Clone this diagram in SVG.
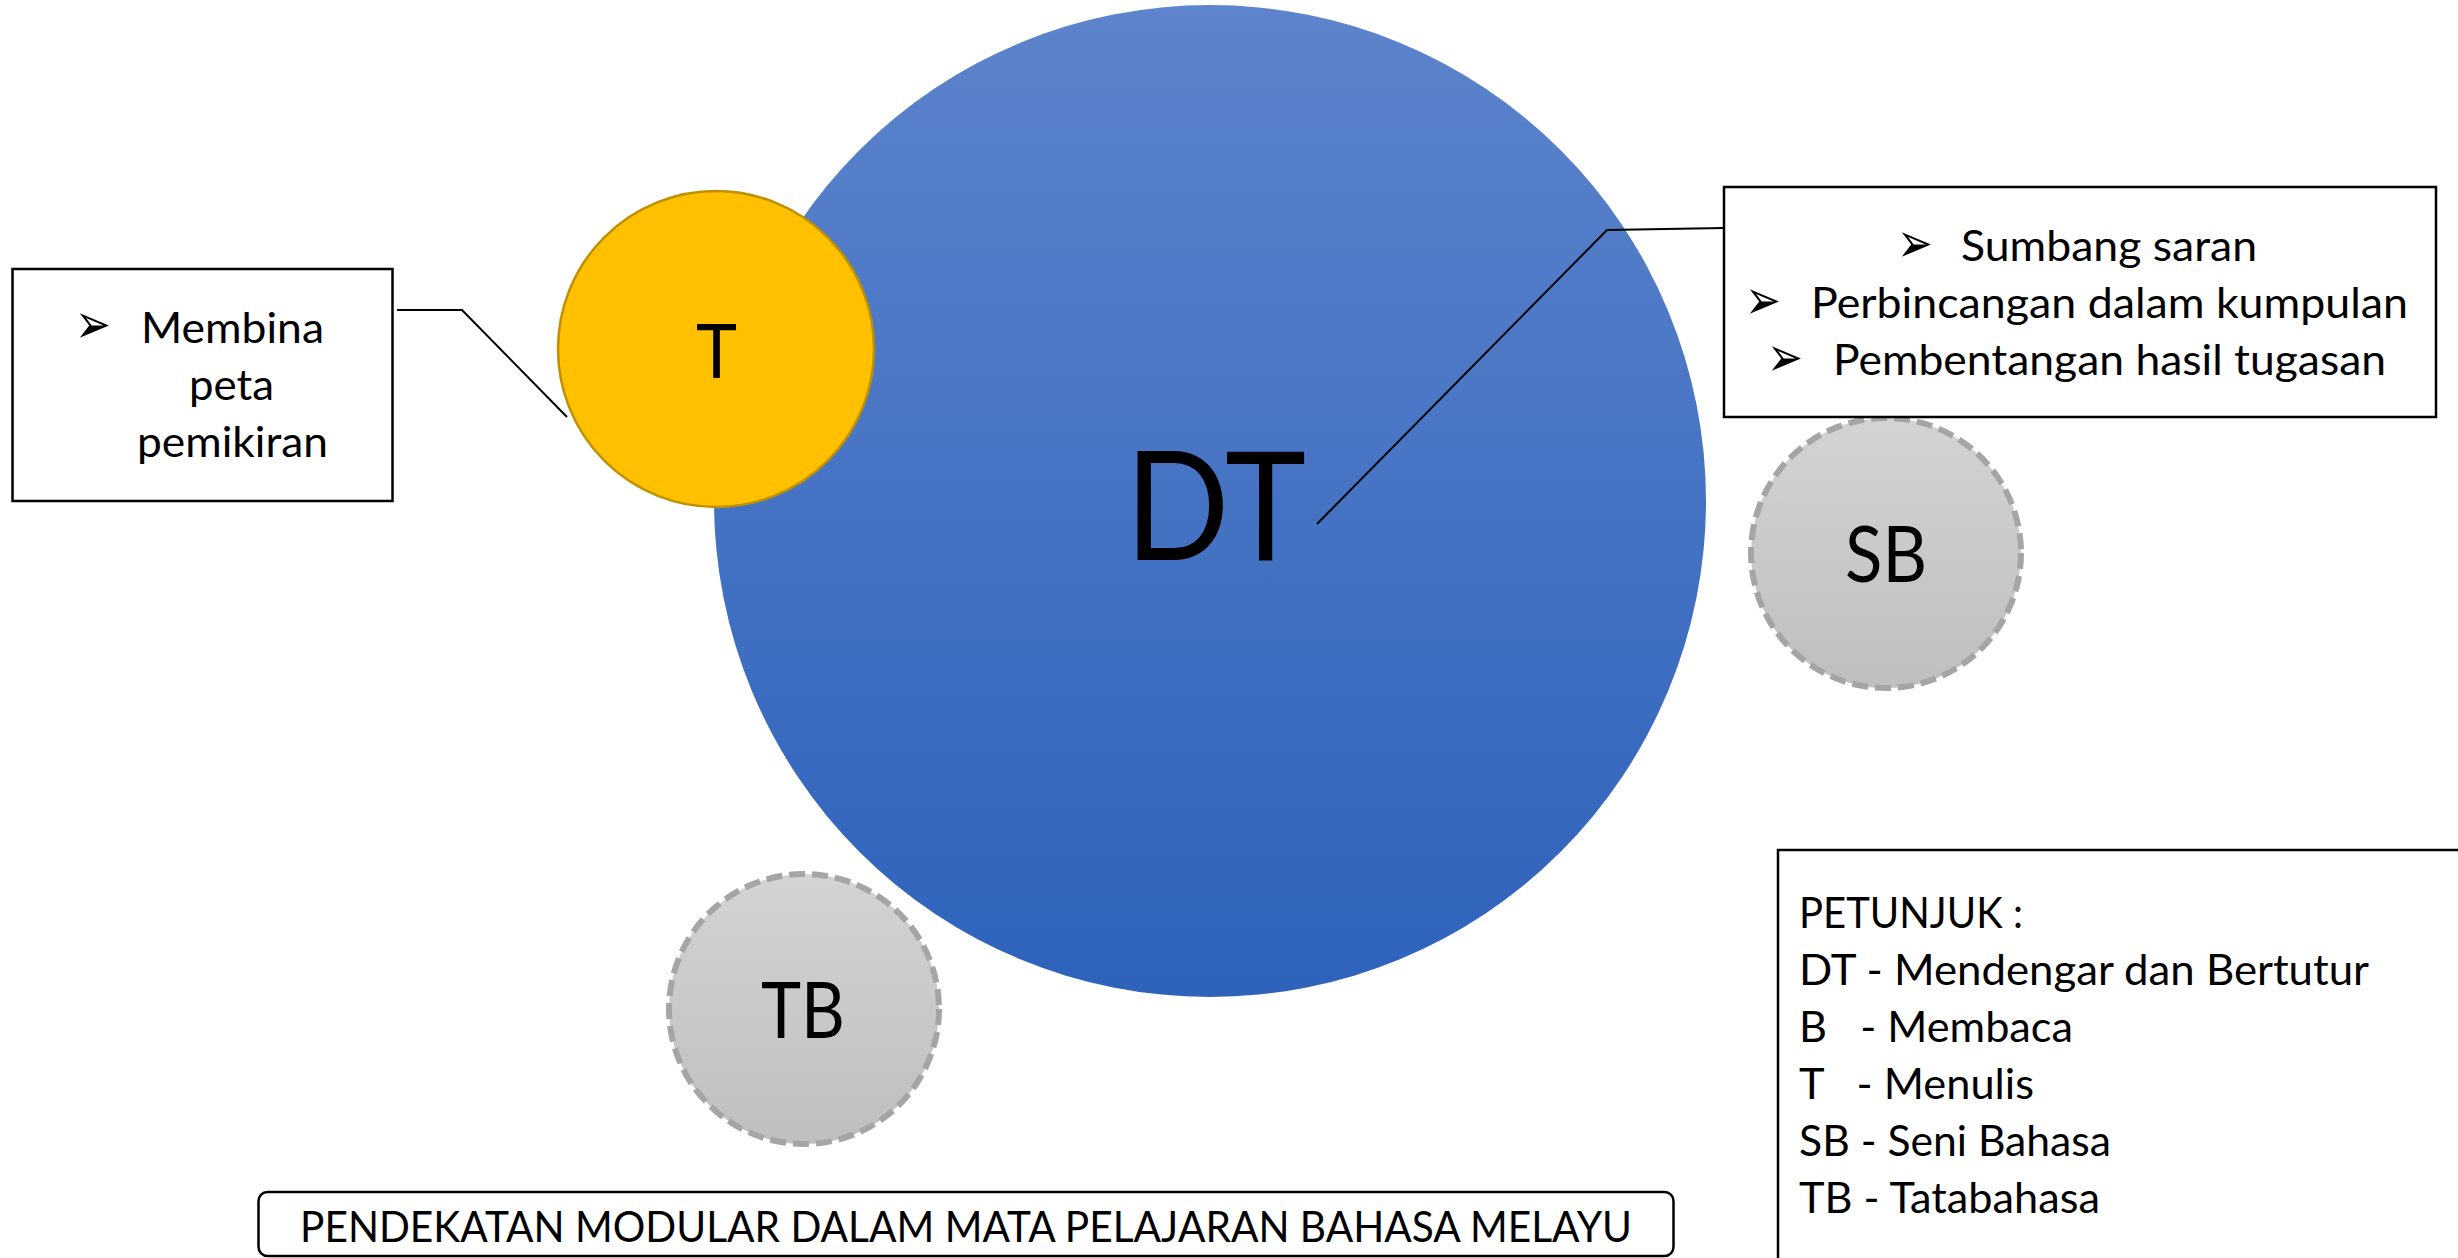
<svg xmlns="http://www.w3.org/2000/svg" width="2458" height="1258" viewBox="0 0 2458 1258">
<style>
.txt{font-family:Lato,"Noto Sans",sans-serif;fill:#000}
.b{font-size:42px}
.bul{font-family:"DejaVu Sans",sans-serif;font-size:56px;fill:#000}
.box{fill:#fff;stroke:#000;stroke-width:2.5}
.gray{fill:url(#gg);stroke:#A5A5A5;stroke-width:6;stroke-dasharray:16 7}
.con{fill:none;stroke:#000;stroke-width:2}
</style>
<defs>
<linearGradient id="bg" x1="0" y1="0" x2="0" y2="1">
<stop offset="0" stop-color="#5D84CC"/>
<stop offset="1" stop-color="#2E62BB"/>
</linearGradient>
<linearGradient id="gg" x1="0" y1="0" x2="0" y2="1">
<stop offset="0" stop-color="#D3D3D3"/>
<stop offset="1" stop-color="#BFBFBF"/>
</linearGradient>
</defs>
<rect width="2458" height="1258" fill="#fff"/>
<g id="DT">
<circle cx="1210" cy="501" r="496" fill="url(#bg)"/>
<text class="txt" x="1125" y="560" font-size="151" textLength="181" lengthAdjust="spacingAndGlyphs">DT</text>
</g>
<g id="T">
<circle cx="716" cy="349" r="158" fill="#FFC000" stroke="#BF9000" stroke-width="2.5"/>
<text class="txt" x="696" y="378" font-size="75" textLength="41" lengthAdjust="spacingAndGlyphs">T</text>
</g>
<g id="SB">
<circle cx="1886" cy="553" r="135" class="gray"/>
<text class="txt" x="1845" y="582" font-size="77" textLength="82" lengthAdjust="spacingAndGlyphs">SB</text>
</g>
<g id="TB">
<circle cx="804" cy="1009" r="135" class="gray"/>
<text class="txt" x="761" y="1038" font-size="77" textLength="84" lengthAdjust="spacingAndGlyphs">TB</text>
</g>
<g id="connectors">
<polyline class="con" points="397,310 462,310 567,417"/>
<polyline class="con" points="1724,228 1607,230 1317,524"/>
</g>
<g id="boxT">
<rect class="box" x="12.5" y="269" width="380" height="232"/>
<text class="bul" x="75" y="343" textLength="36" lengthAdjust="spacingAndGlyphs">➢</text>
<text class="txt b" x="141" y="343" textLength="183" lengthAdjust="spacingAndGlyphs">Membina</text>
<text class="txt b" x="189" y="400" textLength="85" lengthAdjust="spacingAndGlyphs">peta</text>
<text class="txt b" x="137" y="457" textLength="191" lengthAdjust="spacingAndGlyphs">pemikiran</text>
</g>
<g id="boxDT">
<rect class="box" x="1724" y="187" width="712" height="230"/>
<text class="bul" x="1897" y="262" textLength="36" lengthAdjust="spacingAndGlyphs">➢</text>
<text class="txt b" x="1961" y="261" textLength="296" lengthAdjust="spacingAndGlyphs">Sumbang saran</text>
<text class="bul" x="1745" y="319" textLength="36" lengthAdjust="spacingAndGlyphs">➢</text>
<text class="txt b" x="1811" y="318" textLength="597" lengthAdjust="spacingAndGlyphs">Perbincangan dalam kumpulan</text>
<text class="bul" x="1767" y="376" textLength="36" lengthAdjust="spacingAndGlyphs">➢</text>
<text class="txt b" x="1833" y="375" textLength="553" lengthAdjust="spacingAndGlyphs">Pembentangan hasil tugasan</text>
</g>
<g id="legend">
<rect class="box" x="1778" y="850" width="700" height="430"/>
<text class="txt b" x="1799" y="928" textLength="224" lengthAdjust="spacingAndGlyphs">PETUNJUK :</text>
<text class="txt b" x="1799" y="985" textLength="570" lengthAdjust="spacingAndGlyphs">DT - Mendengar dan Bertutur</text>
<text class="txt b" x="1799" y="1042" xml:space="preserve" textLength="274" lengthAdjust="spacingAndGlyphs">B   - Membaca</text>
<text class="txt b" x="1799" y="1099" xml:space="preserve" textLength="235" lengthAdjust="spacingAndGlyphs">T   - Menulis</text>
<text class="txt b" x="1799" y="1156" textLength="312" lengthAdjust="spacingAndGlyphs">SB - Seni Bahasa</text>
<text class="txt b" x="1799" y="1213" textLength="301" lengthAdjust="spacingAndGlyphs">TB - Tatabahasa</text>
</g>
<g id="title">
<rect class="box" x="258.5" y="1192" width="1415" height="64" rx="9"/>
<text class="txt b" x="300" y="1242" textLength="1332" lengthAdjust="spacingAndGlyphs">PENDEKATAN MODULAR DALAM MATA PELAJARAN BAHASA MELAYU</text>
</g>
</svg>
